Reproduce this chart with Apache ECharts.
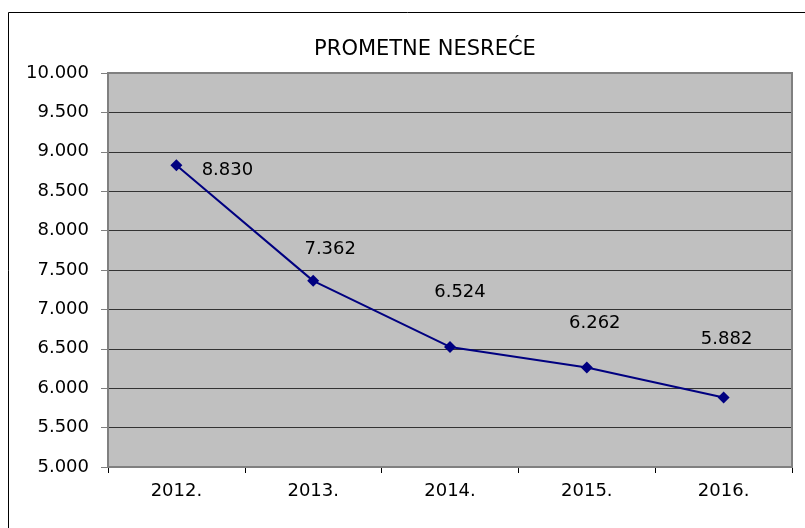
<!DOCTYPE html>
<html><head><meta charset="utf-8">
<script src="https://cdn.jsdelivr.net/npm/echarts@6/dist/echarts.min.js"></script>
<style>html,body{margin:0;padding:0;background:#fff}#c{width:805px;height:528px}</style>
</head><body><div id="c"></div>
<script>
const titleText = "PROMETNE NESREĆE";
const categories = ["2012.", "2013.", "2014.", "2015.", "2016."];
const values = [8830, 7362, 6524, 6262, 5882];
const labelOffsets = [[51, 5], [17, -32], [10, -55], [8, -44], [3, -58]];
const yMin = 5000, yMax = 10000, yStep = 500;

function fmt(v) {
  const s = String(Math.round(v));
  return s.replace(/\B(?=(\d{3})+(?!\d))/g, ".");
}
const FONT = 'DejaVu Sans';
const chart = echarts.init(document.getElementById('c'), null, {renderer: 'canvas'});
chart.setOption({
  animation: false,
  graphic: [{
    type: 'rect', shape: {x: 8.5, y: 12.5, width: 820, height: 540},
    style: {fill: null, stroke: '#000', lineWidth: 1}, z: 0
  }, {
    type: 'rect', shape: {x: 108, y: 73, width: 684, height: 394},
    style: {fill: null, stroke: '#808080', lineWidth: 2}, z: 1
  }],
  title: {
    text: titleText, left: 420, top: 34, textAlign: 'center',
    textStyle: {fontFamily: FONT, fontSize: 21, fontWeight: 'normal', color: '#000'}
  },
  grid: {left: 108, top: 73, width: 684, height: 394, show: true, backgroundColor: '#c0c0c0', borderWidth: 0},
  xAxis: {
    type: 'category', data: categories, boundaryGap: true,
    axisLine: {lineStyle: {color: '#000', width: 1}},
    axisTick: {show: true, length: 6, lineStyle: {color: '#000'}},
    axisLabel: {fontFamily: FONT, fontSize: 18, color: '#000', margin: 15},
    splitLine: {show: false}
  },
  yAxis: {
    type: 'value', min: yMin, max: yMax, interval: yStep,
    axisLine: {show: true, lineStyle: {color: '#808080', width: 2}},
    axisTick: {show: true, length: 7, lineStyle: {color: '#808080'}},
    axisLabel: {fontFamily: FONT, fontSize: 18, color: '#000', margin: 19, formatter: fmt},
    splitLine: {show: true, lineStyle: {color: '#333', width: 1}}
  },
  series: [{
    type: 'line', data: values.map((v, i) => ({value: v, label: {offset: labelOffsets[i]}})),
    symbol: 'diamond', symbolSize: 12,
    lineStyle: {color: '#000080', width: 2},
    itemStyle: {color: '#000080'},
    label: {show: true, position: 'inside', formatter: p => fmt(p.value),
      fontFamily: FONT, fontSize: 18, color: '#000'}
  }]
});
</script></body></html>
